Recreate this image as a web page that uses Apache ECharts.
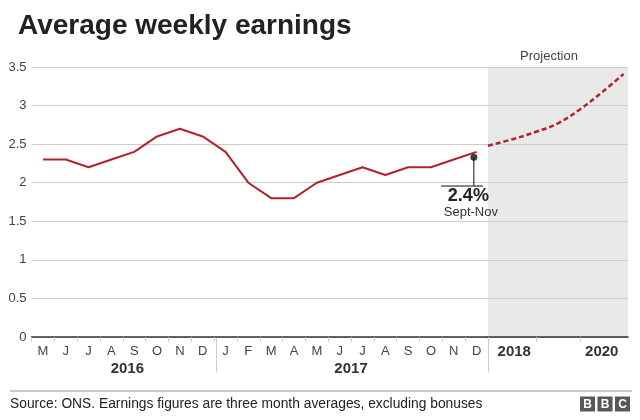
<!DOCTYPE html>
<html><head><meta charset="utf-8">
<script src="https://cdn.jsdelivr.net/npm/echarts@6.0.0/dist/echarts.min.js"></script>
<style>html,body{margin:0;padding:0;background:#fff}#c{width:640px;height:420px}</style>
</head><body><div id="c"></div>
<script>
// ---- data ----
const months = ['M','J','J','A','S','O','N','D','J','F','M','A','M','J','J','A','S','O','N','D'];
const earnings = [2.3,2.3,2.2,2.3,2.4,2.6,2.7,2.6,2.4,2.0,1.8,1.8,2.0,2.1,2.2,2.1,2.2,2.2,2.3,2.4];
const projYears = [2017.9,2018.5,2019.0,2019.5,2020.0,2020.5,2021.0];
const projValues = [2.48,2.57,2.66,2.77,2.95,3.17,3.41];
const projTickYears = [2019, 2020];
const projLabelYears = [2018, 2020];
const yearGroups = ['2016', '2017'];
const yearGroupCenters = [3.7, 13.5];      // in month-index units
const yearGroupSeparators = [7.6, 19.5];   // in month-index units
const annoPoint = [18.88, 2.33];
const annoBase = 1.957;
const annoBar = [17.44, 19.28];
const annoValueText = '2.4%';
const annoPeriodText = 'Sept-Nov';
const annoValuePos = [18.64, 1.83];
const annoPeriodPos = [18.75, 1.62];

const FONT = '"Liberation Sans", Arial, Helvetica, sans-serif';
const RED = '#b3222c';

const chart = echarts.init(document.getElementById('c'), null, {renderer: 'canvas'});

const yBase = {
  type: 'value', min: 0, max: 3.5, interval: 0.5,
  axisLine: {show: false}, axisTick: {show: false},
  splitLine: {lineStyle: {color: '#cccccc', width: 1}}
};

chart.setOption({
  animation: false,
  textStyle: {fontFamily: FONT},
  title: {
    text: 'Average weekly earnings', left: 13, top: 7,
    textStyle: {fontSize: 28, fontWeight: 'bold', color: '#222', fontFamily: FONT}
  },
  grid: [
    {left: 31.5, top: 67, width: 456.5, height: 270, containLabel: false},
    {left: 488, top: 67, width: 140, height: 270, show: true, backgroundColor: '#e9e9e9', borderWidth: 0}
  ],
  xAxis: [
    {type: 'category', gridIndex: 0, data: months, boundaryGap: true,
      axisLine: {lineStyle: {color: '#333', width: 1.5}},
      axisTick: {show: true, length: 5, lineStyle: {color: '#ccc'}},
      axisLabel: {color: '#444', fontSize: 13, margin: 8, fontFamily: FONT}},
    {type: 'value', gridIndex: 1, min: 2017.9, max: 2021.1,
      axisLine: {lineStyle: {color: '#333', width: 1.5}},
      axisTick: {show: true, length: 5, lineStyle: {color: '#ccc'}, customValues: projTickYears},
      axisLabel: {color: '#333', fontSize: 15, fontWeight: 'bold', margin: 7, fontFamily: FONT,
        customValues: projLabelYears.map(y => y + 0.5), formatter: v => String(Math.floor(v))},
      splitLine: {show: false}},
    {type: 'value', gridIndex: 0, min: -0.5, max: 19.5, show: false}
  ],
  yAxis: [
    Object.assign({gridIndex: 0, axisLabel: {color: '#444', fontSize: 13, margin: 5, fontFamily: FONT, formatter: v => String(v)}}, yBase),
    Object.assign({gridIndex: 1, axisLabel: {show: false}}, yBase)
  ],
  series: [
    {type: 'line', xAxisIndex: 0, yAxisIndex: 0, data: earnings, symbol: 'none',
      lineStyle: {color: RED, width: 2}, z: 5},
    {type: 'line', xAxisIndex: 1, yAxisIndex: 1, data: projYears.map((y, i) => [y, projValues[i]]),
      symbol: 'none', smooth: 0.4, lineStyle: {color: RED, width: 2.5, type: [5, 3]}, z: 5},
    {type: 'line', xAxisIndex: 2, yAxisIndex: 0, data: [[annoPoint[0], annoPoint[1]], [annoPoint[0], annoBase]],
      symbol: 'none', lineStyle: {color: '#111', width: 1}, z: 6},
    {type: 'line', xAxisIndex: 2, yAxisIndex: 0, data: [[annoBar[0], annoBase], [annoBar[1], annoBase]],
      symbol: 'none', lineStyle: {color: '#111', width: 1}, z: 6},
    {type: 'scatter', xAxisIndex: 2, yAxisIndex: 0, data: [annoPoint], symbolSize: 7,
      itemStyle: {color: '#111'}, z: 7}
  ]
});

function drawExtras() {
  const px = v => chart.convertToPixel({xAxisIndex: 2}, v);
  const pt = p => chart.convertToPixel({xAxisIndex: 2, yAxisIndex: 0}, p);
  const g = [];
  yearGroups.forEach((t, i) => {
    g.push({type: 'text', x: px(yearGroupCenters[i]), y: 369,
      style: {text: t, font: 'bold 15px ' + FONT, fill: '#333', textAlign: 'center', textVerticalAlign: 'middle'}});
  });
  yearGroupSeparators.forEach(s => {
    const x = Math.round(px(s)) + 0.5;
    g.push({type: 'line', shape: {x1: x, y1: 338, x2: x, y2: 372}, style: {stroke: '#ccc', lineWidth: 1}});
  });
  const vp = pt(annoValuePos), pp = pt(annoPeriodPos);
  g.push({type: 'text', x: vp[0], y: vp[1], z: 10, style: {text: annoValueText, font: 'bold 18px ' + FONT, fill: '#222', textAlign: 'center', textVerticalAlign: 'middle'}});
  g.push({type: 'text', x: pp[0], y: pp[1], z: 10, style: {text: annoPeriodText, font: '13px ' + FONT, fill: '#333', textAlign: 'center', textVerticalAlign: 'middle'}});
  g.push({type: 'text', x: 549, y: 56, style: {text: 'Projection', font: '13px ' + FONT, fill: '#444', textAlign: 'center', textVerticalAlign: 'middle'}});
  g.push({type: 'rect', shape: {x: 10, y: 390, width: 622, height: 2}, style: {fill: '#c8c8c8'}});
  g.push({type: 'text', x: 10, y: 404, style: {text: 'Source: ONS. Earnings figures are three month averages, excluding bonuses', font: '13.8px ' + FONT, fill: '#222', textVerticalAlign: 'middle'}});
  ['B', 'B', 'C'].forEach((l, i) => {
    const x0 = 580 + i * 17.5;
    g.push({type: 'rect', shape: {x: x0, y: 396.5, width: 15, height: 15}, style: {fill: '#585858'}});
    g.push({type: 'text', x: x0 + 7.5, y: 404.5, style: {text: l, font: 'bold 12px ' + FONT, fill: '#fff', textAlign: 'center', textVerticalAlign: 'middle'}});
  });
  chart.setOption({graphic: g});
}
drawExtras();
</script>
</body></html>
